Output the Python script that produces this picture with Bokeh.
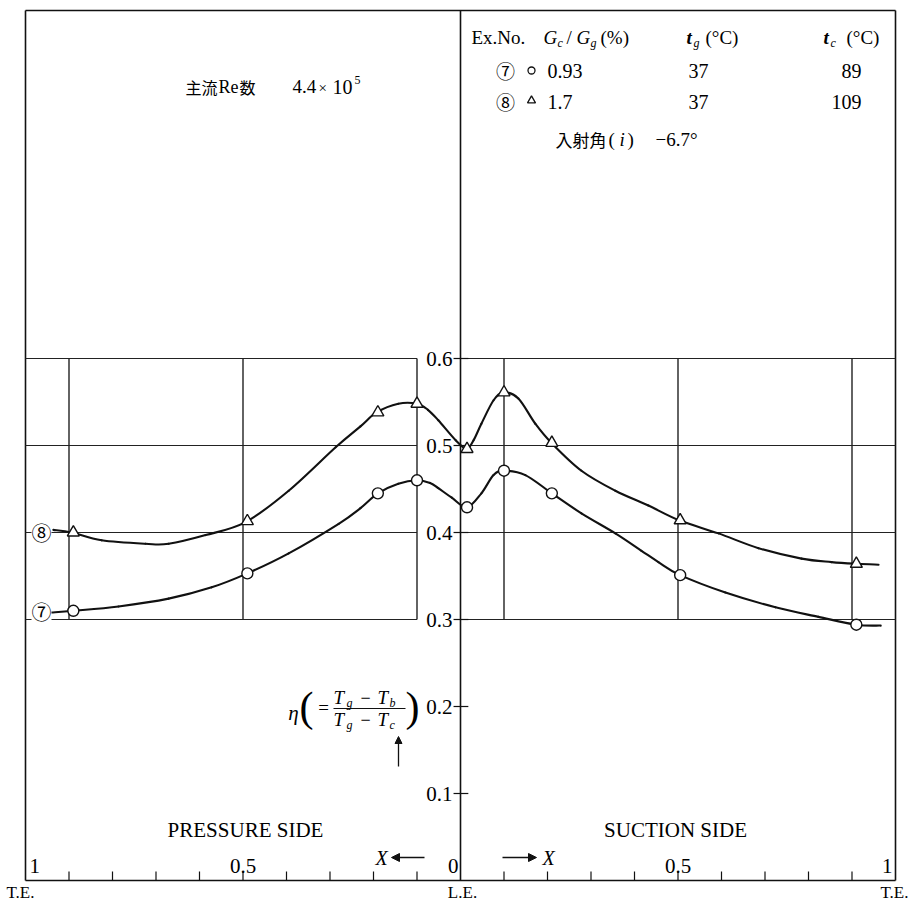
from bokeh.plotting import figure
from bokeh.models import Range1d, Label, Arrow, NormalHead
from bokeh.embed import file_html
from bokeh.resources import INLINE

SERIF = "Liberation Serif"
CJK = "Noto Sans CJK JP"

# ---------------- data ----------------
# X: distance from the leading edge (L.E.), pressure side plotted to the left (negative),
# suction side to the right (positive); eta: film cooling effectiveness
x_meas = [-0.89, -0.49, -0.19, -0.10, 0.015, 0.10, 0.21, 0.505, 0.91]
eta_ex7 = [0.310, 0.353, 0.445, 0.460, 0.429, 0.471, 0.445, 0.351, 0.294]   # Gc/Gg = 0.93 %
eta_ex8 = [0.400, 0.413, 0.538, 0.548, 0.496, 0.561, 0.503, 0.414, 0.364]   # Gc/Gg = 1.7 %

# faired curves through the measurements
curve7_x = [-0.940, -0.890, -0.786, -0.671, -0.572, -0.490, -0.395, -0.280, -0.230, -0.190,
            -0.143, -0.100, -0.070, -0.051, -0.020, 0.015, 0.048, 0.076, 0.100, 0.149,
            0.210, 0.278, 0.356, 0.416, 0.455, 0.505, 0.609, 0.724, 0.823, 0.910, 0.966]
curve7_y = [0.308, 0.310, 0.315, 0.324, 0.337, 0.353, 0.376, 0.410, 0.428, 0.445,
            0.456, 0.460, 0.457, 0.451, 0.440, 0.429, 0.445, 0.466, 0.471, 0.466,
            0.445, 0.422, 0.399, 0.379, 0.366, 0.351, 0.331, 0.314, 0.303, 0.294, 0.293]

curve8_x = [-0.936, -0.894, -0.825, -0.724, -0.671, -0.586, -0.494, -0.395, -0.287, -0.230,
            -0.193, -0.143, -0.100, -0.075, -0.051, -0.011, 0.014, 0.030, 0.048, 0.076,
            0.099, 0.133, 0.172, 0.209, 0.278, 0.356, 0.432, 0.503, 0.593, 0.685,
            0.784, 0.853, 0.913, 0.961]
curve8_y = [0.403, 0.400, 0.391, 0.387, 0.387, 0.397, 0.412, 0.448, 0.498, 0.522,
            0.538, 0.548, 0.548, 0.541, 0.529, 0.506, 0.496, 0.506, 0.525, 0.552,
            0.561, 0.554, 0.525, 0.503, 0.471, 0.448, 0.431, 0.414, 0.399, 0.382,
            0.370, 0.366, 0.364, 0.363]

y_ticks = [0.1, 0.2, 0.3, 0.4, 0.5, 0.6]
y_tick_labels = ["0.1", "0.2", "0.3", "0.4", "0.5", "0.6"]
x_ticks = [-1.0, -0.5, 0.0, 0.5, 1.0]
x_tick_labels = ["1", "0.5", "0", "0.5", "1"]
x_minor = [-0.9, -0.8, -0.7, -0.6, -0.5, -0.4, -0.3, -0.2, -0.1,
           0.1, 0.2, 0.3, 0.4, 0.5, 0.6, 0.7, 0.8, 0.9]
grid_eta = [0.3, 0.4, 0.5, 0.6]
grid_x = [-0.9, -0.5, -0.1, 0.1, 0.5, 0.9]

# ---------------- layout (pixels of the 914 x 903 page) ----------------
W, H = 914, 903
LEFT, RIGHT, TOP, BOTTOM = 25, 895, 10, 880
SX = (RIGHT - LEFT) / 2.0
SY = float(BOTTOM - TOP)


def X(px):
    return -1.0 + (px - LEFT) / SX


def Y(py):
    return (BOTTOM - py) / SY


p = figure(width=W, height=H,
           x_range=Range1d(X(0), X(W)), y_range=Range1d(Y(H), Y(0)),
           x_axis_type=None, y_axis_type=None, min_border=0,
           toolbar_location=None, output_backend="svg",
           outline_line_color=None, background_fill_color="white",
           border_fill_color="white")


def lab(px, py, text, size, font=SERIF, style="normal", align="left",
        baseline="middle", **kw):
    p.add_layout(Label(x=X(px), y=Y(py), text=text, text_font=font,
                       text_font_size=f"{size}px", text_font_style=style,
                       text_align=align, text_baseline=baseline,
                       text_color="black", **kw))


def smooth(xs, ys, **style):
    """Draw a faired curve through the traced points as cubic Bezier pieces."""
    n = len(xs)
    x0, y0, x1, y1, cx0, cy0, cx1, cy1 = ([] for _ in range(8))
    for i in range(n - 1):
        a = max(i - 1, 0)
        d = min(i + 2, n - 1)
        x0.append(xs[i]); y0.append(ys[i])
        x1.append(xs[i + 1]); y1.append(ys[i + 1])
        cx0.append(xs[i] + (xs[i + 1] - xs[a]) / 6.0)
        cy0.append(ys[i] + (ys[i + 1] - ys[a]) / 6.0)
        cx1.append(xs[i + 1] - (xs[d] - xs[i]) / 6.0)
        cy1.append(ys[i + 1] - (ys[d] - ys[i]) / 6.0)
    p.bezier(x0=x0, y0=y0, x1=x1, y1=y1, cx0=cx0, cy0=cy0, cx1=cx1, cy1=cy1,
             line_cap="round", **style)


INK = "#111111"

# frame and the leading-edge axis
p.segment(x0=[-1, -1, -1, 1, 0], y0=[0, 1, 0, 0, 0],
          x1=[1, 1, -1, 1, 0], y1=[0, 1, 1, 1, 1],
          line_color=INK, line_width=1.6)

# grid box between eta = 0.3 and 0.6
p.segment(x0=[-1.0] * len(grid_eta), y0=grid_eta, x1=[-0.1] * len(grid_eta), y1=grid_eta,
          line_color="#222222", line_width=1.1)
p.segment(x0=[0.0] * len(grid_eta), y0=grid_eta, x1=[1.0] * len(grid_eta), y1=grid_eta,
          line_color="#222222", line_width=1.1)
p.segment(x0=grid_x, y0=[min(grid_eta)] * len(grid_x), x1=grid_x,
          y1=[max(grid_eta)] * len(grid_x), line_color="#222222", line_width=1.4)

# eta ticks across the axis
p.segment(x0=[-0.016] * len(y_ticks), y0=y_ticks, x1=[0.018] * len(y_ticks), y1=y_ticks,
          line_color=INK, line_width=1.2)
for v, t in zip(y_ticks, y_tick_labels):
    p.add_layout(Label(x=0, y=v, x_offset=-8, text=t, text_font=SERIF,
                       text_font_size="21px", text_align="right",
                       text_baseline="middle", text_color="black"))

# X ticks (upward from the base line)
tick_len = 9 / SY
p.segment(x0=x_minor, y0=[0] * len(x_minor), x1=x_minor, y1=[tick_len] * len(x_minor),
          line_color=INK, line_width=1.2)
for v, t in zip(x_ticks, x_tick_labels):
    if v == -1.0:
        align, off = "left", 4
    elif v == 1.0:
        align, off = "right", -3
    elif v == 0.0:
        align, off = "right", -2
    else:
        align, off = "center", 0
    p.add_layout(Label(x=v, y=0, x_offset=off, y_offset=15, text=t, text_font=SERIF,
                       text_font_size="21px", text_align=align,
                       text_baseline="middle", text_color="black"))

# edge names under the base line
lab(20, 892, "T.E.", 17, align="center")
lab(462, 892, "L.E.", 17, align="center")
lab(894, 892, "T.E.", 17, align="center")

# direction of X on each side
lab(381, 857, "X", 20, style="italic", align="center")
p.add_layout(Arrow(end=NormalHead(size=8, fill_color=INK, line_color=INK),
                   x_start=X(424), y_start=Y(857), x_end=X(391), y_end=Y(857),
                   line_color=INK, line_width=1.3))
lab(548, 857, "X", 20, style="italic", align="center")
p.add_layout(Arrow(end=NormalHead(size=8, fill_color=INK, line_color=INK),
                   x_start=X(502), y_start=Y(857), x_end=X(536), y_end=Y(857),
                   line_color=INK, line_width=1.3))

lab(245, 829, "PRESSURE SIDE", 21, align="center")
lab(675, 829, "SUCTION SIDE", 21, align="center")

# curves and measured points
smooth(curve8_x, curve8_y, line_color=INK, line_width=2.1)
smooth(curve7_x, curve7_y, line_color=INK, line_width=2.1)
p.scatter(x_meas, eta_ex8, marker="triangle", size=12, fill_color="white",
          line_color=INK, line_width=1.4)
p.scatter(x_meas, eta_ex7, marker="circle", size=11, fill_color="white",
          line_color=INK, line_width=1.4)

# curve tags at the pressure-side trailing edge
lab(41, 532, "⑧", 20, font=CJK, align="center", background_fill_color="white")
lab(41, 611, "⑦", 20, font=CJK, align="center", background_fill_color="white")

# ordinate title: eta (= (Tg - Tb) / (Tg - Tc))
lab(293, 712, "η", 21, style="italic", align="center")
lab(306, 706, "(", 42, align="center")
lab(323, 707, "=", 19, align="center")
for yy, last in ((697, "b"), (719, "c")):
    lab(333, yy, "T", 19, style="italic")
    lab(346, yy + 5, "g", 12, style="italic")
    lab(365, yy, "−", 18, align="center")
    lab(377, yy, "T", 19, style="italic")
    lab(389, yy + 5, last, 12, style="italic")
p.segment(x0=[X(333)], y0=[Y(708)], x1=[X(405)], y1=[Y(708)], line_color=INK, line_width=1.2)
lab(412, 706, ")", 42, align="center")
p.add_layout(Arrow(end=NormalHead(size=7, fill_color=INK, line_color=INK),
                   x_start=X(398), y_start=Y(766), x_end=X(398), y_end=Y(736),
                   line_color=INK, line_width=1.3))

# Reynolds number note
lab(185, 86, "主流", 16, font=CJK)
lab(218, 86, "Re", 18)
lab(239, 86, "数", 16, font=CJK)
lab(292, 86, "4.4", 19)
lab(318, 87, "×", 15)
lab(332, 86, "10", 20)
lab(354, 79, "5", 12)

# table of test conditions
lab(471, 37, "Ex.No.", 19)
lab(543, 37, "G", 19, style="italic")
lab(557, 42, "c", 12, style="italic")
lab(566, 37, "/", 19)
lab(576, 37, "G", 19, style="italic")
lab(590, 42, "g", 12, style="italic")
lab(600, 37, "(%)", 19)
lab(686, 37, "t", 19, style="bold italic")
lab(693, 42, "g", 12, style="italic")
lab(705, 37, "(°C)", 19)
lab(823, 37, "t", 19, style="bold italic")
lab(830, 42, "c", 12, style="italic")
lab(846, 37, "(°C)", 19)

lab(505, 70, "⑦", 19, font=CJK, align="center")
p.scatter([X(531)], [Y(70)], marker="circle", size=7, fill_color="white",
          line_color=INK, line_width=1.3)
lab(547, 70, "0.93", 20)
lab(688, 70, "37", 20)
lab(861, 70, "89", 20, align="right")

lab(505, 101, "⑧", 19, font=CJK, align="center")
p.scatter([X(531)], [Y(100)], marker="triangle", size=8, fill_color="white",
          line_color=INK, line_width=1.3)
lab(547, 101, "1.7", 20)
lab(688, 101, "37", 20)
lab(861, 101, "109", 20, align="right")

lab(555, 139, "入射角", 17, font=CJK)
lab(608, 139, "(", 19)
lab(619, 139, "i", 19, style="italic")
lab(627, 139, ")", 19)
lab(655, 139, "−6.7°", 19)

open("out.html", "w").write(file_html(p, INLINE))
